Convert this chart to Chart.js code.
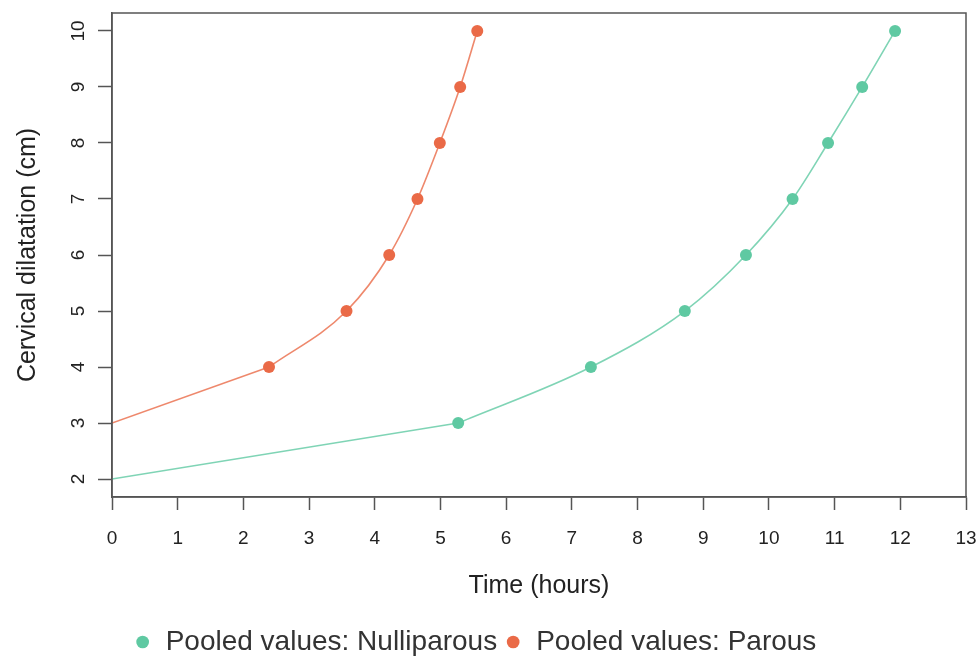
<!DOCTYPE html>
<html>
<head>
<meta charset="utf-8">
<script src="https://cdn.jsdelivr.net/npm/chart.js@4.4.1/dist/chart.umd.min.js"></script>
<style>
  html, body { margin: 0; padding: 0; background: #fff; }
  #wrap { width: 980px; height: 659px; }
</style>
</head>
<body>
<div id="wrap"><canvas id="myChart"></canvas></div>
<script>
// values
var seriesNames = ["Pooled values: Nulliparous", "Pooled values: Parous"];
var nulliHours = [5.27, 7.29, 8.72, 9.65, 10.36, 10.9, 11.42, 11.92];
var nulliDilation = [3, 4, 5, 6, 7, 8, 9, 10];
var parousHours = [2.39, 3.57, 4.22, 4.65, 4.99, 5.30, 5.56];
var parousDilation = [4, 5, 6, 7, 8, 9, 10];
// where each line starts at time 0 (no marker there)
var startHours = [0, 0];
var startDilation = [2, 3];
var xTicks = [0, 1, 2, 3, 4, 5, 6, 7, 8, 9, 10, 11, 12, 13];
var yTicks = [2, 3, 4, 5, 6, 7, 8, 9, 10];

var teal = "#5fc9a2";
var orange = "#ea6a47";
var tealLine = "rgba(95,201,162,0.8)";
var orangeLine = "rgba(234,106,71,0.8)";

function pts(xs, ys) {
  return xs.map(function (x, i) { return { x: x, y: ys[i] } })
}

// box round the plot, like R's box()
const boxPlugin = {
  id: "box",
  afterLayout(chart) {
    // legend sits a bit left of centre in the original
    chart.legend.left -= 8
    chart.legend.right -= 8
  },
  afterDraw(chart) {
    const a = chart.chartArea
    const ctx = chart.ctx
    ctx.save()
    ctx.strokeStyle = "#555"
    ctx.lineWidth = 1.5
    ctx.strokeRect(a.left, a.top, a.right - a.left, a.bottom - a.top)
    ctx.restore()
  }
}

new Chart("myChart", {
  type: "line",
  data: {
    datasets: [
      {
        label: seriesNames[0],
        data: pts(nulliHours, nulliDilation),
        borderColor: tealLine,
        backgroundColor: teal,
        pointBackgroundColor: teal,
        pointBorderWidth: 0,
        pointRadius: 6,
        borderWidth: 1.6,
        cubicInterpolationMode: "monotone"
      },
      {
        label: seriesNames[1],
        data: pts(parousHours, parousDilation),
        borderColor: orangeLine,
        backgroundColor: orange,
        pointBackgroundColor: orange,
        pointBorderWidth: 0,
        pointRadius: 6,
        borderWidth: 1.6,
        cubicInterpolationMode: "monotone"
      },
      {
        label: "start-n",
        data: [{ x: startHours[0], y: startDilation[0] }, { x: nulliHours[0], y: nulliDilation[0] }],
        borderColor: tealLine,
        borderWidth: 1.6,
        pointRadius: 0
      },
      {
        label: "start-p",
        data: [{ x: startHours[1], y: startDilation[1] }, { x: parousHours[0], y: parousDilation[0] }],
        borderColor: orangeLine,
        borderWidth: 1.6,
        pointRadius: 0
      }
    ]
  },
  options: {
    responsive: true,
    maintainAspectRatio: false,
    animation: false,
    layout: { padding: { top: 13, right: 14, left: 0, bottom: -7 } },
    plugins: {
      tooltip: { enabled: false },
      legend: {
        position: "bottom",
        labels: {
          usePointStyle: true,
          pointStyle: "circle",
          boxWidth: 18,
          boxHeight: 9,
          padding: 7,
          color: "#333",
          font: { family: "Liberation Sans", size: 28 },
          filter: function (item) { return item.datasetIndex < 2 }
        }
      }
    },
    scales: {
      x: {
        type: "linear",
        min: 0,
        max: 13,
        afterBuildTicks: function (scale) { scale.ticks = xTicks.map(function (v) { return { value: v } }) },
        afterFit: function (scale) {
          scale.height = 124
          scale.paddingLeft = 0
          scale.paddingRight = 0
        },
        grid: { drawOnChartArea: false, tickLength: 13, tickColor: "#555", tickWidth: 1.5 },
        border: { color: "#555", width: 1.5 },
        ticks: { color: "#222", padding: 17, font: { family: "Liberation Sans", size: 19 } },
        title: {
          display: true,
          text: "Time (hours)",
          color: "#222",
          padding: { top: 0, bottom: 20 },
          font: { family: "Liberation Sans", size: 25 }
        }
      },
      y: {
        type: "linear",
        min: 1.68,
        max: 10.32,
        afterBuildTicks: function (scale) { scale.ticks = yTicks.map(function (v) { return { value: v } }) },
        afterFit: function (scale) {
          scale.width = 112
          scale.paddingTop = 0
          scale.paddingBottom = 0
        },
        grid: { drawOnChartArea: false, tickLength: 14, tickColor: "#555", tickWidth: 1.5 },
        border: { color: "#555", width: 1.5 },
        ticks: {
          color: "#222",
          padding: 9,
          minRotation: 90,
          maxRotation: 90,
          crossAlign: "center",
          font: { family: "Liberation Sans", size: 19 }
        },
        title: {
          display: true,
          text: "Cervical dilatation (cm)",
          color: "#222",
          padding: { top: 13, bottom: 0 },
          font: { family: "Liberation Sans", size: 25 }
        }
      }
    }
  },
  plugins: [boxPlugin]
});
</script>
</body>
</html>
